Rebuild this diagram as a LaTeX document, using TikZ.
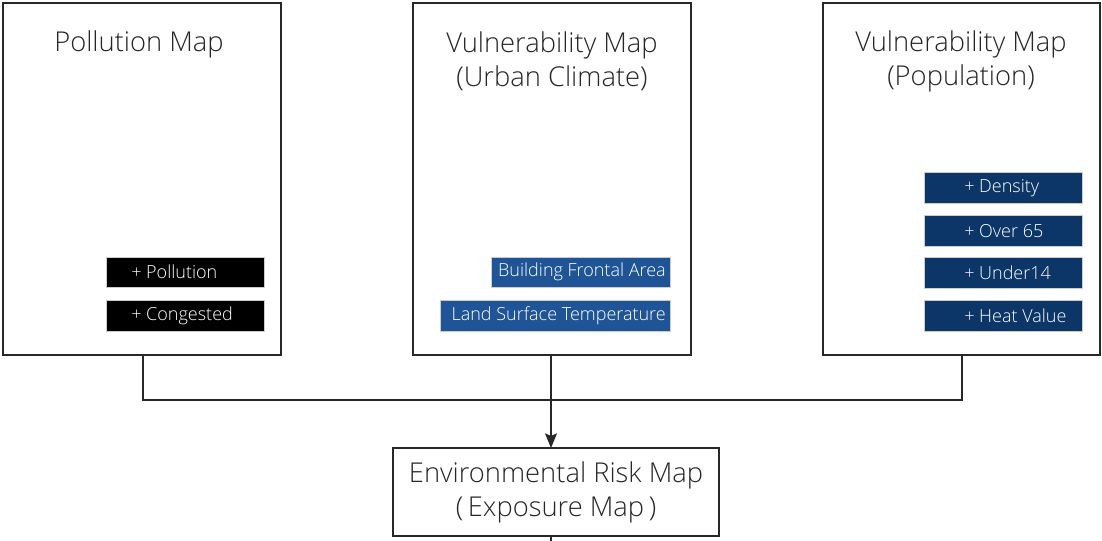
\documentclass[tikz,border=0pt]{standalone}
\usepackage{fontspec}
\setmainfont{Open Sans}[UprightFont=* Light]
\usetikzlibrary{arrows.meta}
\definecolor{midblue}{RGB}{31,85,150}
\definecolor{navy}{RGB}{12,54,104}
\definecolor{edge}{RGB}{40,40,40}
\tikzset{
  panel/.style={draw=edge, line width=1.1pt, fill=white},
  ttl/.style={font=\fontsize{20.5}{25.5}\selectfont, text=black!85, align=center},
  tagbox/.style={draw=black!20, line width=0.3pt},
  tagtxt/.style={font=\fontsize{13.5}{15}\selectfont, text=white, inner sep=0pt},
  conn/.style={draw=edge, line width=1pt},
}
\begin{document}
\begin{tikzpicture}[x=0.75pt,y=-0.75pt]
\useasboundingbox (0,0) rectangle (1102,541);
% panels
\draw[panel] (3,3) rectangle (281,355);
\draw[panel] (413,3) rectangle (691,355);
\draw[panel] (823,3) rectangle (1100,355);
\coordinate (p1b) at (143,355);
\coordinate (p2b) at (551,355);
\coordinate (p3b) at (962,355);
% titles
\node[ttl] (t1) at (139,44) {Pollution Map};
\node[ttl] (t2) at (552,61) {Vulnerability Map\\(Urban Climate)};
\node[ttl] (t3) at (961,61) {Vulnerability Map\\(Population)};
% box1 tags
\fill[black,tagbox] (106,257) rectangle (264,287);
\node[tagtxt,anchor=west] (a1) at (131,272) {+ Pollution};
\fill[black,tagbox] (106,300) rectangle (264,331);
\node[tagtxt,anchor=west] (a2) at (131,316) {+ Congested};
% box2 tags
\filldraw[fill=midblue,tagbox] (491,257) rectangle (670,287);
\node[tagtxt,anchor=east] (b1) at (666,272) {Building Frontal Area};
\filldraw[fill=midblue,tagbox] (440,300) rectangle (670,331);
\node[tagtxt,anchor=east] (b2) at (666,316) {Land Surface Temperature};
% box3 tags
\filldraw[fill=navy,tagbox] (924,172) rectangle (1082,203);
\node[tagtxt,anchor=west] (c1) at (964,188) {+ Density};
\filldraw[fill=navy,tagbox] (924,215) rectangle (1082,246);
\node[tagtxt,anchor=west] (c2) at (964,231) {+ Over 65};
\filldraw[fill=navy,tagbox] (924,257) rectangle (1082,288);
\node[tagtxt,anchor=west] (c3) at (964,273) {+ Under14};
\filldraw[fill=navy,tagbox] (924,300) rectangle (1082,331);
\node[tagtxt,anchor=west] (c4) at (964,316) {+ Heat Value};
% bottom box
\node[draw=edge, line width=1.1pt, minimum width=326*0.75pt, minimum height=88*0.75pt, inner sep=0pt, ttl] (risk) at (556,492) {Environmental Risk Map\\(\,Exposure Map\,)};
% connectors
\coordinate (j1) at (143,400);
\coordinate (j3) at (962,400);
\draw[conn] (p1b) -- (j1) -- (j3) -- (p3b);
\draw[conn,-{Stealth[length=11pt,width=9pt,inset=2pt]}] (p2b) -- (551,448);
\coordinate (down) at (551,541);
\draw[conn] (551,536) -- (down);
\end{tikzpicture}
\end{document}
